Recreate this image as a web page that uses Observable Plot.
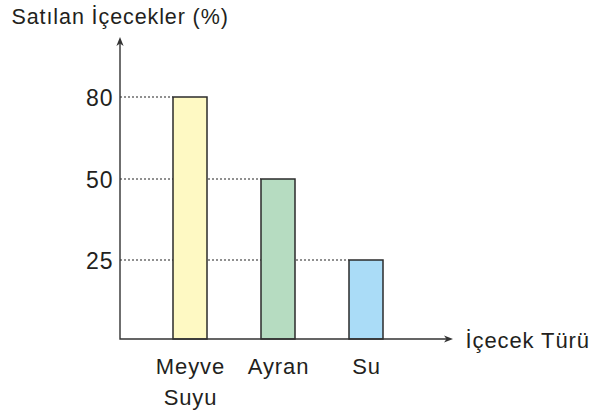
<!DOCTYPE html>
<html>
<head>
<meta charset="utf-8">
<script src="https://cdn.jsdelivr.net/npm/d3@7"></script>
<script src="https://cdn.jsdelivr.net/npm/@observablehq/plot@0.6"></script>
<style>
  html, body { margin: 0; padding: 0; background: #fff; }
  svg text { letter-spacing: 0.9px; }
</style>
</head>
<body>
<div id="chart"></div>
<script>
// ---- data ----
const categories = ["Meyve Suyu", "Ayran", "Su"];
const values = [80, 50, 25];
const yTicks = [25, 50, 80];
const yLevels = [0, 25, 50, 80];
const barColors = ["#fef9c3", "#b6dcc1", "#aadcf7"];
const title = "Satılan İçecekler (%)";
const xTitle = "İçecek Türü";

const rows = categories.map((c, i) => ({category: c, value: values[i]}));

const W = 589, H = 410;
const ink = "#231f20";

// dotted guide lines from the y axis to each bar, positioned through Plot's scales
function guidesMark(index, scales, vals, dim) {
  const g = d3.create("svg:g");
  for (const r of rows) {
    const yy = scales.y(r.value);
    g.append("line")
      .attr("x1", dim.marginLeft).attr("x2", scales.x(r.category))
      .attr("y1", yy).attr("y2", yy)
      .attr("stroke", "#222").attr("stroke-width", 1.1)
      .attr("stroke-dasharray", "2,2");
  }
  return g.node();
}

// axis lines with arrowheads, drawn from the frame dimensions
function axesMark(index, scales, vals, dim) {
  const g = d3.create("svg:g");
  const x0 = dim.marginLeft, x1 = dim.width - dim.marginRight;
  const y0 = dim.height - dim.marginBottom, y1 = dim.marginTop;
  g.append("path")
    .attr("d", `M${x0},${y1 + 4}V${y0}H${x1 - 4}`)
    .attr("fill", "none").attr("stroke", "#333").attr("stroke-width", 1.4);
  g.append("path")
    .attr("d", `M${x0},${y1} L${x0 + 3.6},${y1 + 9} L${x0},${y1 + 6.5} L${x0 - 3.6},${y1 + 9}Z`)
    .attr("fill", "#333");
  g.append("path")
    .attr("d", `M${x1},${y0} L${x1 - 9},${y0 - 3.6} L${x1 - 6.5},${y0} L${x1 - 9},${y0 + 3.6}Z`)
    .attr("fill", "#333");
  return g.node();
}

const plot = Plot.plot({
  width: W,
  height: H,
  marginLeft: 120,
  marginRight: 136,
  marginTop: 37,
  marginBottom: 71,
  style: {fontFamily: "'Liberation Sans', Arial, sans-serif", color: ink, background: "#fff"},
  x: {type: "band", domain: categories, range: [120, 435.6], paddingInner: 0.614, paddingOuter: 0.6, label: null},
  y: {type: "linear", domain: yLevels, range: [339, 260, 179, 97], label: null},
  color: {domain: categories, range: barColors},
  marks: [
    guidesMark,
    Plot.barY(rows, {x: "category", y: "value", fill: "category", stroke: "#2b2b2b", strokeWidth: 1.5}),
    axesMark,
    Plot.axisY({ticks: yTicks, tickSize: 0, tickPadding: 7, fontSize: 23, dy: 1.5, fill: ink, label: null}),
    Plot.axisX({tickSize: 0, tickPadding: 13, fontSize: 22, fill: ink, lineHeight: 1.4, label: null,
      tickFormat: d => d.replace(" ", "\n")}),
    Plot.text([title], {frameAnchor: "top-left", dx: -109, dy: -20, textAnchor: "start",
      lineAnchor: "middle", fontSize: 21.5, fill: ink}),
    Plot.text([xTitle], {frameAnchor: "bottom-right", dx: 12, dy: 1, textAnchor: "start",
      lineAnchor: "middle", fontSize: 22, fill: ink})
  ]
});

document.getElementById("chart").appendChild(plot);
</script>
</body>
</html>
